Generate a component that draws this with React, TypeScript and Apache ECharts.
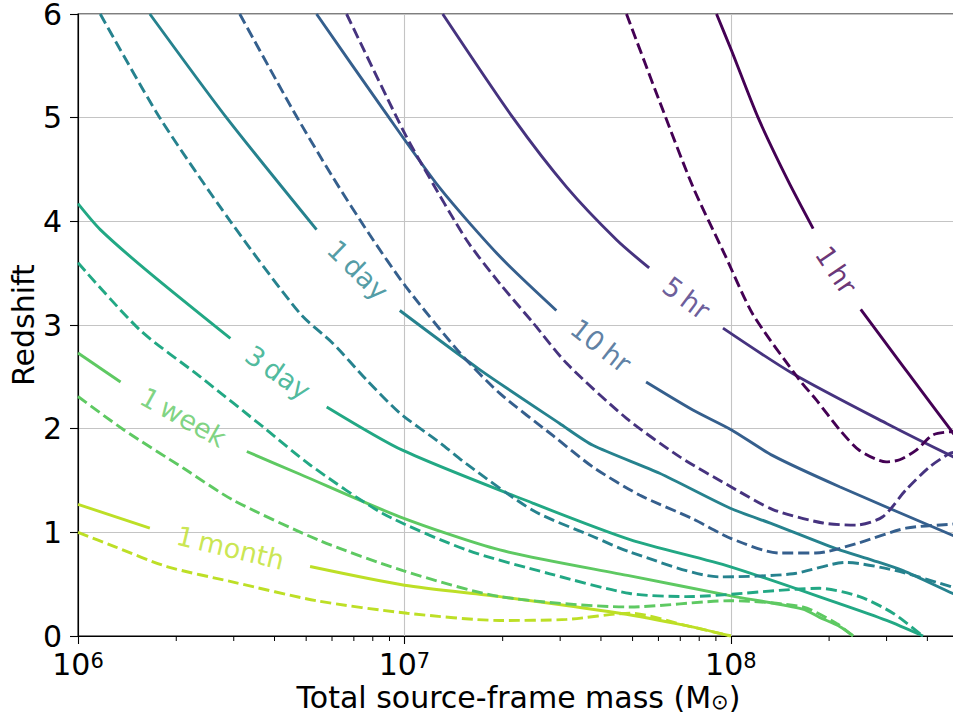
import React, { useEffect, useRef } from 'react';
import * as echarts from 'echarts';

const FONT = 'DejaVu Sans';

// colours (viridis samples)
const cHr1 = '#440154';
const cHr5 = '#46337f';
const cHr10 = '#355f8d';
const cDay1 = '#26828e';
const cDay3 = '#22a884';
const cWeek1 = '#5ec962';
const cMonth1 = '#bddf26';

// [mass (Msun), redshift] — solid curves are split where the inline label sits
const oneHrSolid = [
  [[9.04e7, 6], [1.004e8, 5.65], [1.212e8, 5.0], [1.498e8, 4.39], [1.787e8, 3.93]],
  [[2.5e8, 3.15], [3.21e8, 2.69], [4.79e8, 1.96], [5e8, 1.9]],
];
const oneHrDashed = [[4.79e7, 6], [6.06e7, 5.15], [7.66e7, 4.33], [9.58e7, 3.68], [1.17e8, 3.1], [1.623e8, 2.47], [1.825e8, 2.28], [2.153e8, 1.99], [2.479e8, 1.79], [2.99e8, 1.68], [3.29e8, 1.7], [3.69e8, 1.79], [4.16e8, 1.94], [4.79e8, 1.97], [5e8, 1.97]];

const fiveHrSolid = [
  [[1.31e7, 6], [2.15e7, 5], [3.14e7, 4.33], [4.47e7, 3.82], [5.62e7, 3.55]],
  [[9.46e7, 2.97], [1.551e8, 2.53], [3.0e8, 2.05], [4.79e8, 1.73], [5e8, 1.71]],
];
const fiveHrDashed = [[6.65e6, 6], [9.9e6, 4.88], [1.14e7, 4.53], [1.55e7, 3.82], [1.96e7, 3.4], [2.48e7, 3.02], [3.14e7, 2.63], [4.79e7, 2.1], [6.96e7, 1.73], [1.0e8, 1.44], [1.345e8, 1.22], [1.914e8, 1.09], [2.42e8, 1.07], [2.92e8, 1.15], [3.44e8, 1.41], [4.06e8, 1.63], [4.68e8, 1.76], [5e8, 1.78]];

const tenHrSolid = [
  [[5.38e6, 6], [8.61e6, 5.08], [1.285e7, 4.32], [1.961e7, 3.66], [2.92e7, 3.14]],
  [[5.5e7, 2.45], [7.65e7, 2.18], [1.002e8, 1.99], [1.345e8, 1.74], [2.153e8, 1.44], [4.79e8, 0.97], [5e8, 0.95]],
];
const tenHrDashed = [[3.13e6, 6], [4.56e6, 5.07], [6.05e6, 4.42], [7.83e6, 3.87], [1.01e7, 3.37], [1.48e7, 2.73], [1.96e7, 2.34], [2.86e7, 1.93], [3.78e7, 1.63], [5.25e7, 1.36], [7.65e7, 1.13], [1.003e8, 0.94], [1.41e8, 0.8], [1.82e8, 0.8], [2.42e8, 0.89], [3.44e8, 1.04], [4.79e8, 1.08], [5e8, 1.09]];

const oneDaySolid = [
  [[1.66e6, 6], [2.85e6, 5], [5.38e6, 3.92]],
  [[9.68e6, 3.14], [1.7e7, 2.57], [2.99e7, 2.05], [3.78e7, 1.84], [6.05e7, 1.57], [1.0e8, 1.23], [1.345e8, 1.08], [2.11e8, 0.84], [2.72e8, 0.73], [3.37e8, 0.63], [4.79e8, 0.41], [5e8, 0.39]],
];
const oneDayDashed = [[1.17e6, 6], [1.78e6, 5], [2.93e6, 4.0], [4.79e6, 3.11], [6.05e6, 2.82], [7.66e6, 2.47], [9.68e6, 2.15], [1.29e7, 1.86], [1.55e7, 1.66], [2.48e7, 1.21], [3.78e7, 0.96], [4.91e7, 0.81], [9.25e7, 0.57], [1.55e8, 0.6], [2.25e8, 0.71], [3.21e8, 0.63], [4.79e8, 0.47], [5e8, 0.45]];

const threeDaySolid = [
  [[1e6, 4.17], [1.17e6, 3.92], [1.66e6, 3.5], [2.93e6, 2.87]],
  [[5.78e6, 2.21], [9.9e6, 1.79], [2.48e7, 1.28], [4.91e7, 0.93], [9.93e7, 0.67], [2.16e8, 0.31], [3.0e8, 0.15], [3.88e8, 0]],
];
const threeDayDashed = [[1e6, 3.6], [1.55e6, 2.95], [2.37e6, 2.5], [3.78e6, 1.99], [5.14e6, 1.65], [8.61e6, 1.18], [1.55e7, 0.83], [2.79e7, 0.6], [4.91e7, 0.41], [7.31e7, 0.38], [1.87e8, 0.46], [2.48e8, 0.38], [3.14e8, 0.22], [3.87e8, 0]];

const oneWeekSolid = [
  [[1e6, 2.73], [1.35e6, 2.45]],
  [[3.29e6, 1.78], [4.79e6, 1.56], [9.68e6, 1.15], [1.96e7, 0.83], [4.91e7, 0.58], [9.93e7, 0.39], [1.66e8, 0.26], [1.87e8, 0.18], [2.16e8, 0.09], [2.37e8, 0]],
];
const oneWeekDashed = [[1e6, 2.31], [1.38e6, 1.99], [2.1e6, 1.62], [2.99e6, 1.31], [5.51e6, 0.92], [9.9e6, 0.63], [1.96e7, 0.38], [4.91e7, 0.28], [9.93e7, 0.34], [1.66e8, 0.28], [2.11e8, 0.12], [2.37e8, 0]];

const oneMonthSolid = [
  [[1e6, 1.27], [1.66e6, 1.04]],
  [[5.14e6, 0.67], [1e7, 0.49], [1.96e7, 0.38], [4.57e7, 0.22], [7.31e7, 0.1], [1e8, 0]],
];
const oneMonthDashed = [[1e6, 1.0], [1.3e6, 0.86], [1.87e6, 0.67], [2.99e6, 0.52], [5.38e6, 0.34], [1.02e7, 0.22], [1.96e7, 0.15], [3.14e7, 0.16], [4.91e7, 0.22], [7.31e7, 0.1], [1e8, 0]];

// inline contour labels
const labelTexts = ['1\u2009hr', '5\u2009hr', '10\u2009hr', '1\u2009day', '3\u2009day', '1\u2009week', '1\u2009month'];
const labelMass = [2.1e8, 7.3e7, 4.0e7, 7.2e6, 4.1e6, 2.1e6, 2.93e6];
const labelZ = [3.53, 3.26, 2.8, 3.53, 2.54, 2.11, 0.85];
const labelAngle = [-56, -37, -38, -44, -35, -29, -13.5];
const labelColors = [cHr1, cHr5, cHr10, cDay1, cDay3, cWeek1, cMonth1];

// axis ticks
const minorTickMasses = [2e6, 3e6, 4e6, 5e6, 6e6, 7e6, 8e6, 9e6, 2e7, 3e7, 4e7, 5e7, 6e7, 7e7, 8e7, 9e7, 2e8, 3e8, 4e8];
const xMin = 1e6;
const xMax = 5e8;
const yMin = 0;
const yMax = 6;

const LW = 2.9;
const DASH = [11, 4.8];

function lineSeries(data: number[][], color: string, dashed: boolean) {
  return {
    type: 'line',
    data,
    showSymbol: false,
    symbol: 'none',
    smooth: 0.25,
    silent: true,
    lineStyle: { color, width: LW, type: dashed ? DASH : 'solid', cap: 'butt' },
  };
}

export default function App() {
  const ref = useRef<HTMLDivElement>(null);
  useEffect(() => {
    if (!ref.current) return;
    const chart = echarts.init(ref.current, undefined, { renderer: 'svg' });
    const curves: [number[][][], number[][], string][] = [
      [oneMonthSolid, oneMonthDashed, cMonth1],
      [oneWeekSolid, oneWeekDashed, cWeek1],
      [threeDaySolid, threeDayDashed, cDay3],
      [oneDaySolid, oneDayDashed, cDay1],
      [tenHrSolid, tenHrDashed, cHr10],
      [fiveHrSolid, fiveHrDashed, cHr5],
      [oneHrSolid, oneHrDashed, cHr1],
    ];
    const series: any[] = [];
    curves.forEach(([solid, dashed, color]) => {
      solid.forEach((seg) => series.push(lineSeries(seg, color, false)));
      series.push(lineSeries(dashed, color, true));
    });
    series.push({
      type: 'scatter',
      symbol: 'circle',
      symbolSize: 1,
      itemStyle: { color: 'rgba(0,0,0,0)' },
      silent: true,
      z: 5,
      data: labelTexts.map((t, i) => ({
        value: [labelMass[i], labelZ[i]],
        label: {
          show: true,
          position: 'inside',
          formatter: t,
          rotate: labelAngle[i],
          color: labelColors[i],
          fontSize: 27,
          fontFamily: FONT,
        },
      })),
    });
    series.push({
      type: 'custom',
      silent: true,
      clip: false,
      z: 10,
      data: minorTickMasses.map((m) => [m, 0]),
      renderItem: (params: any, api: any) => {
        const p = api.coord([api.value(0), 0]);
        return {
          type: 'line',
          shape: { x1: p[0], y1: p[1], x2: p[0], y2: p[1] + 5 },
          style: { stroke: '#000', lineWidth: 1 },
        };
      },
    });

    chart.setOption({
      animation: false,
      backgroundColor: '#fff',
      grid: {
        left: 78, right: -6, top: 14, bottom: 79,
        outerBoundsMode: 'none', containLabel: false,
        show: true, borderColor: '#000', borderWidth: 1.1, backgroundColor: 'transparent',
      },
      xAxis: {
        type: 'log',
        logBase: 10,
        min: xMin,
        max: xMax,
        axisLine: { show: true, lineStyle: { color: '#000', width: 1.1 } },
        axisTick: { show: true, length: 8, lineStyle: { color: '#000', width: 1.1 } },
        axisLabel: {
          margin: 14,
          formatter: (v: number) => {
            const e = Math.log10(v);
            if (Math.abs(e - Math.round(e)) > 1e-6) return '';
            return '{b|10}{s|' + Math.round(e) + '}';
          },
          rich: {
            b: { fontSize: 30, fontFamily: FONT, color: '#000', lineHeight: 28 },
            s: { fontSize: 21, fontFamily: FONT, color: '#000', lineHeight: 20, verticalAlign: 'top' },
          },
        },
        splitLine: { show: true, lineStyle: { color: '#c4c4c4', width: 1.1 } },
        minorTick: { show: false },
        name: 'Total source-frame mass (M{s|\u2299})',
        nameLocation: 'middle',
        nameGap: 46,
        nameMoveOverlap: false,
        nameTextStyle: {
          fontSize: 30,
          lineHeight: 30,
          fontFamily: FONT,
          color: '#000',
          rich: {
            s: { fontSize: 21, fontFamily: FONT, color: '#000', lineHeight: 22, verticalAlign: 'bottom' },
          },
        },
      },
      yAxis: {
        type: 'value',
        min: yMin,
        max: yMax,
        interval: 1,
        axisLine: { show: true, lineStyle: { color: '#000', width: 1.1 } },
        axisTick: { show: true, length: 8, lineStyle: { color: '#000', width: 1.1 } },
        axisLabel: { margin: 16, fontSize: 30, lineHeight: 26, fontFamily: FONT, color: '#000' },
        splitLine: { show: true, lineStyle: { color: '#c4c4c4', width: 1.1 } },
        name: 'Redshift',
        nameLocation: 'middle',
        nameGap: 40,
        nameMoveOverlap: false,
        nameTextStyle: { fontSize: 30, lineHeight: 30, fontFamily: FONT, color: '#000' },
      },
      series,
    });
    return () => chart.dispose();
  }, []);
  return (
    <div
      ref={ref}
      style={{ position: 'fixed', left: 0, top: 0, width: 953, height: 715, background: '#fff' }}
    />
  );
}
